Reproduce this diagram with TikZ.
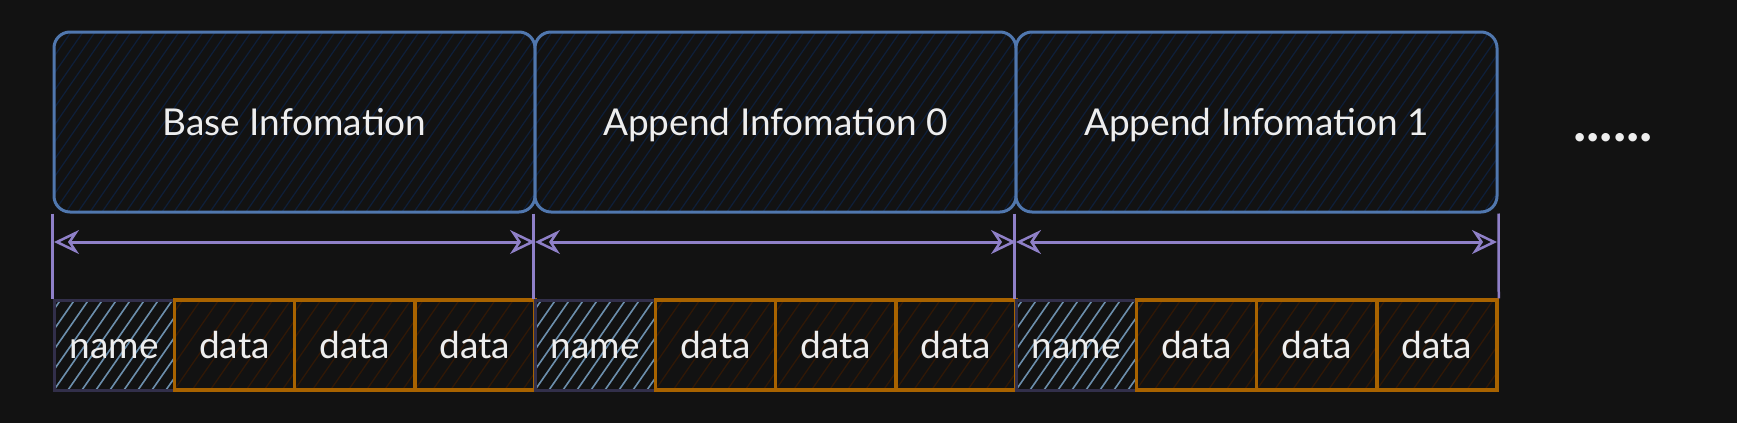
\documentclass[tikz,border=0pt]{standalone}
\usepackage{fontspec}
\setmainfont{Lato}
\usetikzlibrary{arrows.meta}
\definecolor{bg}{HTML}{121212}
\definecolor{boxblue}{HTML}{5077AE}
\definecolor{boxhatch}{HTML}{0E1F3A}
\definecolor{dimpurple}{HTML}{8F80C8}
\definecolor{namestroke}{HTML}{322F4A}
\definecolor{namehatch}{HTML}{6C8FAD}
\definecolor{datastroke}{HTML}{A86300}
\definecolor{datahatch}{HTML}{301806}
\definecolor{txt}{HTML}{EEEEEE}
\tikzset{
  hatch/.style n args={3}{path picture={
      \foreach \i in {-16,...,50}
        \draw[#1, line width=#3] (path picture bounding box.south west) ++(\i*#2,0) -- ++(132,-190);
    }},
  lbl/.style={text=txt, font=\fontsize{37}{42}\selectfont, text height=27pt, text depth=0pt, inner sep=0pt},
  infobox/.style={lbl, draw=boxblue, line width=3pt, rounded corners=16pt, fill=bg,
    minimum width=481pt, minimum height=180pt, hatch={boxhatch}{12}{1.2pt}},
  namecell/.style={lbl, draw=namestroke, line width=3pt, fill=bg,
    minimum width=120.25pt, minimum height=90pt, hatch={namehatch}{14}{1.6pt}},
  datacell/.style={lbl, draw=datastroke, line width=3.5pt, fill=bg,
    minimum width=120.25pt, minimum height=90pt, hatch={datahatch}{18}{1.3pt}},
  tickline/.style={draw=dimpurple, line width=2.5pt},
  dimarrow/.style={draw=dimpurple, line width=3pt,
    {Stealth[open, length=25pt, width=24pt, inset=8pt, line width=2.5pt]}-{Stealth[open, length=25pt, width=24pt, inset=8pt, line width=2.5pt]}},
}
\begin{document}
\begin{tikzpicture}[x=1pt, y=-1pt]
\fill[bg] (0,0) rectangle (1737,423);
\useasboundingbox (0,0) rectangle (1737,423);
\foreach \k/\t in {0/Base Infomation,1/Append Infomation 0,2/Append Infomation 1}{
  \pgfmathsetmacro\xs{54+481*\k}
  \node[infobox] (b\k) at (\xs+240.5,122) {\t};
  \node[namecell] (n\k) at (\xs+60.125,345) {name};
  \foreach \j in {1,2,3}
    \node[datacell] (d\k\j) at (\xs+60.125+120.25*\j,345) {data};
  \coordinate (a\k) at (\xs,242);
}
\coordinate (a3) at (1497,242);
\foreach \k in {0,1,2}
  \draw[tickline] (b\k.south west) -- (n\k.north west);
\draw[tickline] (b2.south east) -- (d23.north east);
\draw[dimarrow] (a0) -- (a1);
\draw[dimarrow] (a1) -- (a2);
\draw[dimarrow] (a2) -- (a3);
\node[text=txt, font=\fontsize{56}{60}\selectfont\bfseries, anchor=base, inner sep=0pt] (dots) at (1613,141) {......};
\end{tikzpicture}
\end{document}
